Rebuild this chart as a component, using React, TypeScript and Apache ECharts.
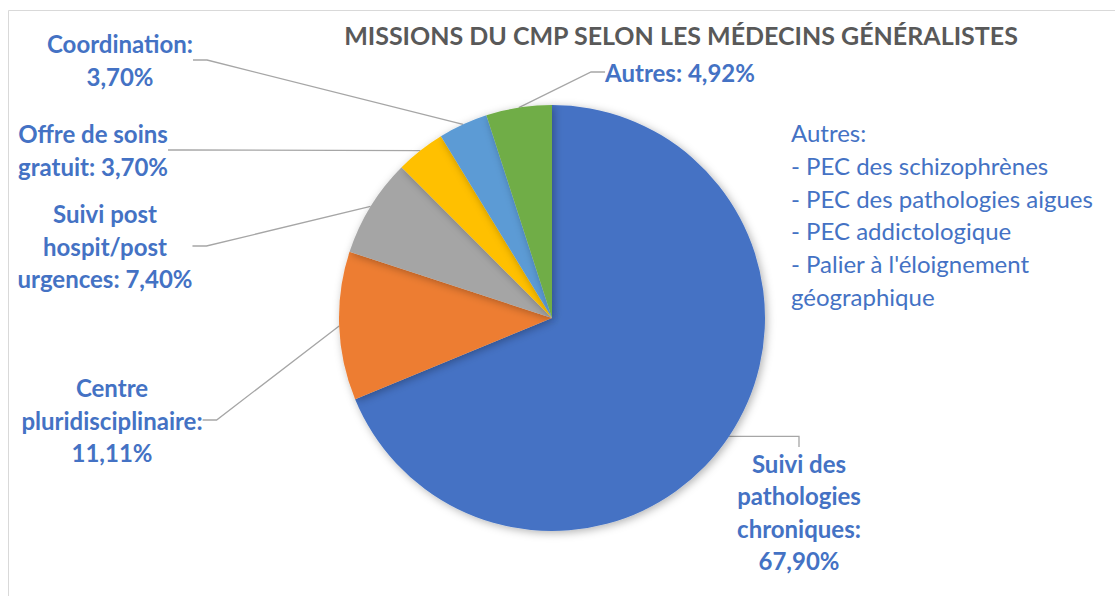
import React, { useEffect, useRef } from "react";
import * as echarts from "echarts";

const title = "MISSIONS DU CMP SELON LES MÉDECINS GÉNÉRALISTES";
const categories = [
  "Suivi des\npathologies\nchroniques",
  "Centre\npluridisciplinaire",
  "Suivi post\nhospit/post\nurgences",
  "Offre de soins\ngratuit",
  "Coordination",
  "Autres",
];
const values = [67.9, 11.11, 7.4, 3.7, 3.7, 4.92];
const colors = ["#4472C4", "#ED7D31", "#A5A5A5", "#FFC000", "#5B9BD5", "#70AD47"];
const noteLines = [
  "Autres:",
  "- PEC des schizophrènes",
  "- PEC des pathologies aigues",
  "- PEC addictologique",
  "- Palier à l'éloignement",
  "géographique",
];

// layout only
const valueSeparators = ["\n", "\n", " ", " ", "\n", " "];
const labelCenters: [number, number][] = [
  [799, 512],
  [112, 420],
  [105, 246],
  [93, 150],
  [120, 60],
  [680, 72],
];

const FONT = "Lato, 'Noto Sans', sans-serif";

export default function App() {
  const ref = useRef<HTMLDivElement>(null);
  useEffect(() => {
    if (!ref.current) return;
    const chart = echarts.init(ref.current, undefined, { renderer: "svg" });
    const fmt = (v: number) => v.toFixed(2).replace(".", ",") + "%";
    chart.setOption({
      animation: false,
      backgroundColor: "#ffffff",
      title: {
        text: title,
        left: 676,
        top: 17,
        textAlign: "center",
        textStyle: { fontFamily: FONT, fontSize: 25, fontWeight: "bold", color: "#595959" },
      },
      graphic: [
        {
          type: "rect",
          shape: { x: 8.5, y: 10.5, width: 1200, height: 700 },
          style: { fill: "none", stroke: "#D9D9D9", lineWidth: 1 },
          silent: true,
        },
        {
          type: "text",
          left: 791,
          top: 116,
          style: {
            text: noteLines.join("\n"),
            fontFamily: FONT,
            fontSize: 24,
            lineHeight: 32.8,
            fill: "#4472C4",
          },
        },
      ],
      series: [
        {
          type: "pie",
          center: [552, 318],
          radius: 213,
          startAngle: 90,
          clockwise: true,
          data: categories.map((c, i) => ({
            name: c,
            value: values[i],
            itemStyle: { color: colors[i] },
          })),
          itemStyle: {
            shadowBlur: 8,
            shadowColor: "rgba(0,0,0,0.3)",
            shadowOffsetX: 2,
            shadowOffsetY: 2,
          },
          label: {
            show: true,
            position: "outside",
            formatter: (p: any) => p.name + ":" + valueSeparators[p.dataIndex] + fmt(p.value),
            fontFamily: FONT,
            fontSize: 24,
            fontWeight: "bold",
            color: "#4472C4",
            lineHeight: 32.5,
            align: "center",
          },
          labelLine: {
            show: true,
            length: 20,
            length2: 14,
            lineStyle: { color: "#A6A6A6", width: 1.3 },
          },
          labelLayout: (p: any) => {
            const c = labelCenters[p.dataIndex];
            return { x: c[0], y: c[1], align: "center", verticalAlign: "middle" };
          },
        },
      ],
    });
    return () => chart.dispose();
  }, []);
  return (
    <div
      ref={ref}
      style={{ position: "fixed", left: 0, top: 0, width: 1115, height: 596 }}
    />
  );
}
